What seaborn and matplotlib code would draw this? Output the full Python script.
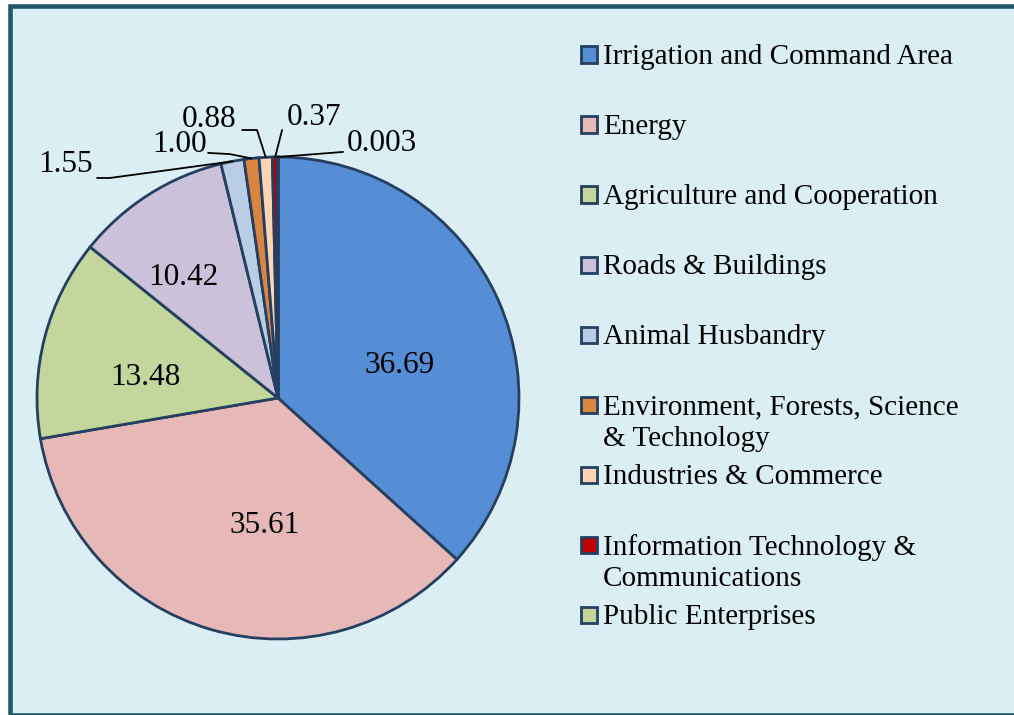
import numpy as np
import matplotlib
matplotlib.use("Agg")
import matplotlib.pyplot as plt
from matplotlib.patches import Rectangle
import seaborn as sns

# Data
sectors = [
    "Irrigation and Command Area",
    "Energy",
    "Agriculture and Cooperation",
    "Roads & Buildings",
    "Animal Husbandry",
    "Environment, Forests, Science\n& Technology",
    "Industries & Commerce",
    "Information Technology &\nCommunications",
    "Public Enterprises",
]
shares = [36.69, 35.61, 13.48, 10.42, 1.55, 1.00, 0.88, 0.37, 0.003]
share_labels = ["36.69", "35.61", "13.48", "10.42", "1.55", "1.00", "0.88", "0.37", "0.003"]
colors = ["#558ED5", "#E6B9B8", "#C3D69B", "#CCC1DA", "#B9CDE5",
          "#DA8540", "#FCD5B5", "#C00000", "#C3D69B"]

sns.set_theme(style="white")
plt.rcParams["font.family"] = ["Liberation Serif", "DejaVu Serif"]

W, H = 1014, 715
fig = plt.figure(figsize=(W / 100, H / 100), dpi=100, facecolor="white")

# outer frame
fig.add_artist(Rectangle((9.7 / W, 0.5 / H), 1.1, 708.2 / H, transform=fig.transFigure,
                         facecolor="#DBEEF4", edgecolor="#215968", lw=3.3, zorder=-1))

# pie axes: center (278, 398) px, radius 241 px
cx, cy, R = 278, 398, 241
ax = fig.add_axes([(cx - R) / W, (H - cy - R) / H, 2 * R / W, 2 * R / H])
ax.set_facecolor("none")
wedges, _ = ax.pie(shares, colors=colors, startangle=90, counterclock=False,
                   wedgeprops=dict(edgecolor="#243F60", linewidth=2))
ax.set_xlim(-1, 1)
ax.set_ylim(-1, 1)
ax.set_aspect("equal")
ax.axis("off")

fs_pie = 22.5
fs_leg = 21

# labels inside the large slices (layout positions, data coords)
inside_pos = [(0.506, 0.133), (-0.054, -0.527), (-0.552, 0.083), (-0.394, 0.498)]
for i, (x, y) in enumerate(inside_pos):
    ax.text(x, y, share_labels[i], ha="center", va="center", fontsize=fs_pie, color="black")

# outside labels with leader lines: (text x, text y, ha, line start, elbow)
outside = [
    (-0.768, 0.967, "right", (-0.751, 0.913), (-0.697, 0.913)),
    (-0.295, 1.050, "right", (-0.290, 1.017), (-0.199, 1.012)),
    (-0.174, 1.154, "right", (-0.149, 1.112), (-0.087, 1.112)),
    (0.037, 1.162, "left", (0.017, 1.112), (0.017, 1.112)),
    (0.286, 1.058, "left", (0.270, 1.021), (0.270, 1.021)),
]
for k, (tx, ty, ha, p0, p1) in enumerate(outside):
    i = 4 + k
    w = wedges[i]
    mid = np.deg2rad((w.theta1 + w.theta2) / 2)
    ex, ey = np.cos(mid), np.sin(mid)
    ax.text(tx, ty, share_labels[i], ha=ha, va="center", fontsize=fs_pie, color="black",
            clip_on=False)
    ax.plot([p0[0], p1[0], ex], [p0[1], p1[1], ey], color="black", lw=1.3,
            clip_on=False, zorder=5)

# legend drawn entry by entry (first lines evenly spaced as in the original)
sq = 16
for i, name in enumerate(sectors):
    yc = 54.5 + 70 * i
    fig.add_artist(Rectangle(((589 - sq / 2) / W, (H - yc - sq / 2) / H), sq / W, sq / H,
                             transform=fig.transFigure, facecolor=colors[i],
                             edgecolor="#243F60", lw=2))
    for j, line in enumerate(name.split("\n")):
        fig.text(603 / W, 1 - (yc + 32 * j) / H, line, ha="left", va="center_baseline",
                 fontsize=fs_leg, color="black")

fig.savefig("out.png", dpi=100)
